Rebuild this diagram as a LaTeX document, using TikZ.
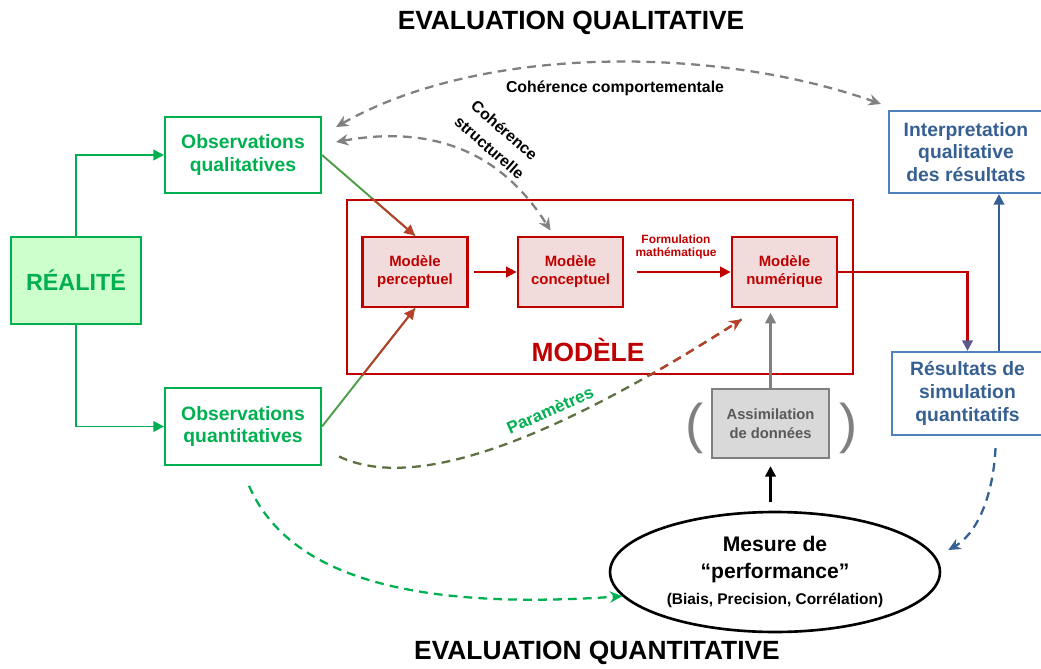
\documentclass[tikz,border=0pt]{standalone}
\usepackage{fontspec}
\setmainfont{Liberation Sans}
\usetikzlibrary{arrows.meta,shapes.geometric,positioning}
\definecolor{vert}{HTML}{00B050}
\definecolor{vertclair}{HTML}{CCFFCC}
\definecolor{vertolive}{HTML}{4E9E48}
\definecolor{paramvert}{HTML}{5E7040}
\definecolor{rouge}{HTML}{C00000}
\definecolor{brique}{HTML}{B8402A}
\definecolor{rose}{HTML}{F2DCDB}
\definecolor{bleu}{HTML}{4F81BD}
\definecolor{bleufonce}{HTML}{376092}
\definecolor{mauve}{HTML}{5A5A8C}
\definecolor{gris}{HTML}{808080}
\definecolor{grisclair}{HTML}{D9D9D9}
\definecolor{grisfonce}{HTML}{595959}
\tikzset{titre/.style={font=\fontsize{15}{18}\selectfont\bfseries},
  obsbox/.style={draw=vert,line width=1.2pt,text=vert,align=center,font=\fontsize{11}{13}\selectfont\bfseries,minimum width=3.12cm,minimum height=1.53cm},
  modbox/.style={draw=rouge,fill=rose,line width=1.6pt,text=rouge,align=center,font=\fontsize{8.5}{10.2}\selectfont\bfseries,minimum width=2.1cm,minimum height=1.4cm},
  resbox/.style={draw=bleu,line width=1.2pt,text=bleufonce,align=center,font=\fontsize{11}{13}\selectfont\bfseries},
  pointe/.style={-{Triangle[length=6pt,width=6pt]}},
  tirets/.style={line width=1.3pt,dash pattern=on 5pt off 3.5pt},
  cohdash/.style={gris,tirets,{Stealth[length=7pt,width=6.5pt]}-{Stealth[length=7pt,width=6.5pt]}}}
\begin{document}
\begin{tikzpicture}[x=0.02cm,y=-0.02cm]
\useasboundingbox (0,0) rectangle (1041,669);
\node[titre] (tqual) at (571,23) {EVALUATION QUALITATIVE};
\node[titre] (tquant) at (597,653) {EVALUATION QUANTITATIVE};

\node[draw=vert,fill=vertclair,line width=1.2pt,text=vert,font=\fontsize{13.3}{16}\selectfont\bfseries,minimum width=2.6cm,minimum height=1.74cm] (real) at (76,280.5) {RÉALITÉ};
\node[obsbox] (obsql) at (243,155) {Observations\\qualitatives};
\node[obsbox] (obsqt) at (243,426.5) {Observations\\quantitatives};

\node[draw=rouge,line width=1.6pt,minimum width=10.12cm,minimum height=3.48cm] (modele) at (600,287) {};
\node[text=rouge,font=\fontsize{15}{18}\selectfont\bfseries] (modlbl) at (588,350) {MODÈLE};
\node[modbox] (perc) at (415,272) {Modèle\\perceptuel};
\node[modbox] (conc) at (570.5,272) {Modèle\\conceptuel};
\node[modbox] (num) at (784.5,272) {Modèle\\numérique};
\node[text=rouge,font=\fontsize{6.8}{7.6}\selectfont\bfseries,align=center] (formul) at (676,247) {Formulation\\mathématique};

\node[resbox,minimum width=3.08cm,minimum height=1.64cm] (interp) at (966,152) {Interpretation\\qualitative\\des résultats};
\node[resbox,minimum width=3.02cm,minimum height=1.66cm] (res) at (967.5,393.5) {Résultats de\\simulation\\quantitatifs};

\node[draw=gris,fill=grisclair,line width=1.3pt,text=grisfonce,align=center,font=\fontsize{8.4}{10.8}\selectfont\bfseries,minimum width=2.34cm,minimum height=1.38cm] (assim) at (770.5,423.5) {Assimilation\\de données};
\node[text=gris,font=\fontsize{31}{31}\selectfont] (parg) at (695,428) {(};
\node[text=gris,font=\fontsize{31}{31}\selectfont] (pard) at (849,428) {)};

\node[draw,ellipse,line width=1.5pt,minimum width=6.6cm,minimum height=2.4cm,inner sep=0pt,align=center,font=\fontsize{12}{15}\selectfont\bfseries] (perf) at (775,572) {Mesure de\\“performance”\\{\fontsize{8.8}{15}\selectfont(Biais, Precision, Corrélation)}};

\node[font=\fontsize{9}{11}\selectfont\bfseries] (cohc) at (615,88) {Cohérence comportementale};
\node[font=\fontsize{9}{13}\selectfont\bfseries,align=center,rotate=-41] (cohs) at (497,139) {Cohérence\\structurelle};
\node[text=vert,font=\fontsize{9.7}{11}\selectfont\bfseries,rotate=24] (param) at (550,410) {Paramètres};

% realite vers observations
\draw[vert,line width=1.1pt,pointe] (real.north) |- (obsql.west);
\draw[vert,line width=1.1pt,pointe] (real.south) |- (obsqt.west);

% observations vers modele (vert puis rouge dans le cadre)
\draw[vertolive,line width=1.1pt] (obsql.east) -- (perc.north);
\draw[vertolive,line width=1.1pt] (obsqt.east) -- (perc.south);
\draw[paramvert,tirets] ([shift={(17,30)}]obsqt.east) .. controls (430,500) and (600,410) .. ([shift={(11,11)}]num.south west);
\begin{scope}
\clip (modele.south west) rectangle (modele.north east);
\draw[brique,line width=1.1pt,pointe] (obsql.east) -- (perc.north);
\draw[brique,line width=1.1pt,pointe] (obsqt.east) -- (perc.south);
\draw[brique,tirets,-{Stealth[length=7pt,width=6.5pt]}] ([shift={(17,30)}]obsqt.east) .. controls (430,500) and (600,410) .. ([shift={(11,11)}]num.south west);
\end{scope}

\draw[rouge,line width=1.3pt,pointe,shorten <=3pt] (perc.east) -- (conc.west);
\draw[rouge,line width=1.3pt,pointe,shorten <=7pt] (conc.east) -- (num.west);
\draw[rouge,line width=1.2pt,-{Triangle[length=6pt,width=6pt,color=mauve]}] (num.east) -| (res.north);
\draw[bleufonce,line width=1.2pt,pointe] (res.north -| 999,0) -- (interp.south -| 999,0);

\draw[gris,line width=1.3pt,pointe,shorten >=2.5pt] (assim.north) -- (assim.north |- num.south);
\draw[line width=1.4pt,pointe,shorten <=5pt,shorten >=4pt] (perf.north -| assim.south) -- (assim.south);

% coherences
\draw[cohdash] ([shift={(14,-28)}]obsql.east) .. controls (480,45) and (714,45) .. ([shift={(-7,-6)}]interp.north west);
\draw[cohdash] ([shift={(14,-13)}]obsql.east) .. controls (430,125) and (500,150) .. ([shift={(-20,-5)}]conc.north);

% evaluation quantitative
\draw[vert,tirets,-{Stealth[length=7pt,width=6.5pt]}] ([shift={(6,20)}]obsqt.south) .. controls (290,580) and (420,610) .. (perf.189);
\draw[bleufonce,tirets,-{Stealth[length=7pt,width=6.5pt]}] ([shift={(28,12)}]res.south) .. controls (993,500) and (975,535) .. ([shift={(7,-22)}]perf.east);
\end{tikzpicture}
\end{document}
